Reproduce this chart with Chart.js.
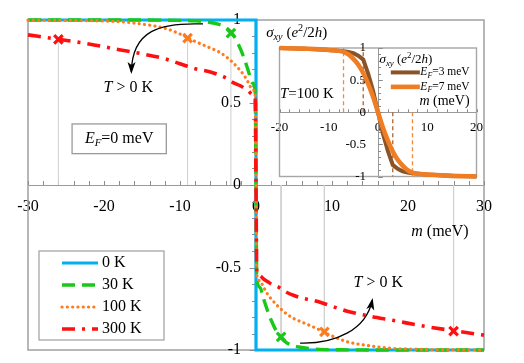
<!DOCTYPE html>
<html><head><meta charset="utf-8">
<script src="https://cdn.jsdelivr.net/npm/chart.js@4/dist/chart.umd.min.js"></script>
<style>
html,body{margin:0;padding:0;background:#fff;}
#wrap{position:relative;width:524px;height:363px;background:#fff;overflow:hidden;}
#inset{position:absolute;left:257px;top:20px;width:227px;height:165px;background:#fff;z-index:1;}
#inset canvas{display:block;}
#main{position:absolute;left:0;top:0;z-index:2;}
</style></head><body>
<div id="wrap">
<div id="inset"><canvas id="c2" width="227" height="165"></canvas></div>
<canvas id="main" width="524" height="363"></canvas>
</div>
<script>
// ---------- main chart data ----------
const tempLabels = ['0 K', '30 K', '100 K', '300 K'];
const m0K = [-30, 0, 0, 30];
const sigma0K = [1, 1, -1, -1];
const mT = [-30,-26,-22,-18,-15,-12,-10,-8,-6,-5,-4,-3,-2,-1.5,-1,-0.5,-0.1,0,0.1,0.5,1,1.5,2,3,4,5,6,8,10,12,15,18,22,26,30];
const sigma30K = [1,1,1,1,1,0.999,0.998,0.995,0.985,0.975,0.955,0.91,0.82,0.76,0.69,0.62,0.56,0,-0.56,-0.62,-0.69,-0.76,-0.82,-0.91,-0.955,-0.975,-0.985,-0.995,-0.998,-0.999,-1,-1,-1,-1,-1];
const sigma100K = [0.999,0.998,0.996,0.99,0.975,0.95,0.915,0.87,0.83,0.81,0.78,0.74,0.69,0.66,0.62,0.58,0.54,0,-0.54,-0.58,-0.62,-0.66,-0.69,-0.74,-0.78,-0.81,-0.83,-0.87,-0.915,-0.95,-0.975,-0.99,-0.996,-0.998,-0.999];
const sigma300K = [0.91,0.883,0.855,0.82,0.795,0.765,0.735,0.705,0.685,0.67,0.65,0.62,0.6,0.585,0.57,0.55,0.53,0,-0.53,-0.55,-0.57,-0.585,-0.6,-0.62,-0.65,-0.67,-0.685,-0.705,-0.735,-0.765,-0.795,-0.82,-0.855,-0.883,-0.91];
const crossM30K = [-3.3, 3.3];
const crossS30K = [0.92, -0.92];
const crossM100K = [-9, 9];
const crossS100K = [0.89, -0.89];
const crossM300K = [-26, 26];
const crossS300K = [0.883, -0.885];
const xTickLabels = ['-30', '-20', '-10', '0', '10', '20', '30'];
const yTickLabels = ['-1', '-0.5', '0', '0.5', '1'];

// ---------- inset data ----------
const insetM = [-20,-15,-10,-7,-6,-5,-4,-3,-2,-1,0,1,2,3,4,5,6,7,10,15,20];
const insetEF3 = [1,0.99,0.97,0.95,0.94,0.92,0.88,0.82,0.6,0.33,0,-0.33,-0.6,-0.82,-0.88,-0.92,-0.94,-0.95,-0.97,-0.99,-1];
const insetEF7 = [1,0.99,0.97,0.94,0.9,0.83,0.74,0.61,0.44,0.24,0,-0.24,-0.44,-0.61,-0.74,-0.83,-0.9,-0.94,-0.97,-0.99,-1];
const insetMarkEF3 = [-3, 3];
const insetMarkEF7 = [-7, 7];
const insetMarkEnd = [1, -1];
const insetLegendValues = ['=3 meV', '=7 meV'];
const insetXTickLabels = ['-20', '-10', '0', '10', '20'];
const insetYTickLabels = ['-1', '-0.5', '0', '0.5', '1'];

// ---------- helpers ----------
const SERIF = '"Liberation Serif", "Times New Roman", serif';
const pts = (xs, ys) => xs.map((x, i) => ({x: x, y: ys[i]}));
function stems(xs, ys) {
  const out = [];
  xs.forEach((x, i) => { out.push({x: x, y: 0}, {x: x, y: ys[i]}, {x: x, y: null}); });
  return out;
}
function drawRich(ctx, x, y, segs, align, base) {
  let total = 0;
  const parts = segs.map(s => {
    const size = (s.sub || s.sup) ? base * 0.68 : base;
    const font = (s.i ? 'italic ' : '') + size + 'px ' + SERIF;
    ctx.font = font;
    const w = ctx.measureText(s.t).width;
    total += w;
    return {t: s.t, sub: s.sub, sup: s.sup, font: font, w: w};
  });
  let cx = align === 'center' ? x - total / 2 : (align === 'right' ? x - total : x);
  ctx.save();
  ctx.textAlign = 'left';
  ctx.textBaseline = 'middle';
  ctx.fillStyle = '#000';
  parts.forEach(p => {
    ctx.font = p.font;
    const dy = p.sub ? base * 0.3 : (p.sup ? -base * 0.32 : 0);
    ctx.fillText(p.t, cx, y + dy);
    cx += p.w;
  });
  ctx.restore();
}
function arrowCubic(ctx, P) {
  ctx.save();
  ctx.strokeStyle = '#000'; ctx.fillStyle = '#000'; ctx.lineWidth = 1.3;
  ctx.beginPath();
  ctx.moveTo(P[0][0], P[0][1]);
  ctx.bezierCurveTo(P[1][0], P[1][1], P[2][0], P[2][1], P[3][0], P[3][1]);
  ctx.stroke();
  const ang = Math.atan2(P[3][1] - P[2][1], P[3][0] - P[2][0]);
  const L = 10, W = 4;
  ctx.beginPath();
  ctx.moveTo(P[3][0] + Math.cos(ang) * 2, P[3][1] + Math.sin(ang) * 2);
  ctx.lineTo(P[3][0] - Math.cos(ang) * L + Math.sin(ang) * W, P[3][1] - Math.sin(ang) * L - Math.cos(ang) * W);
  ctx.lineTo(P[3][0] - Math.cos(ang) * (L - 3), P[3][1] - Math.sin(ang) * (L - 3));
  ctx.lineTo(P[3][0] - Math.cos(ang) * L - Math.sin(ang) * W, P[3][1] - Math.sin(ang) * L + Math.cos(ang) * W);
  ctx.closePath();
  ctx.fill();
  ctx.restore();
}
function drawTickMarks(ctx, xs, ys, xFrom, xTo, xStep, xLen, yFrom, yTo, yStep, yLen) {
  ctx.save();
  ctx.strokeStyle = '#8c8c8c'; ctx.lineWidth = 1;
  const y0 = ys.getPixelForValue(0), x0 = xs.getPixelForValue(0);
  ctx.beginPath();
  for (let k = 0; k <= Math.round((xTo - xFrom) / xStep); k++) {
    const v = xFrom + k * xStep;
    const px = Math.round(xs.getPixelForValue(v)) + 0.5;
    ctx.moveTo(px, y0); ctx.lineTo(px, y0 + xLen);
  }
  for (let k = 0; k <= Math.round((yTo - yFrom) / yStep); k++) {
    const v = yFrom + k * yStep;
    const py = Math.round(ys.getPixelForValue(v)) + 0.5;
    const len = (Math.abs(v * 2 - Math.round(v * 2)) < 1e-6) ? yLen * 1.6 : yLen;
    ctx.moveTo(x0, py); ctx.lineTo(x0 + len, py);
  }
  ctx.stroke();
  ctx.restore();
}
// y tick labels of a centred y axis (Chart.js ignores ticks.padding there)
function drawYLabels(chart, labels, pad, size) {
  const ctx = chart.ctx, ys = chart.scales.y, xs = chart.scales.x;
  const x0 = xs.getPixelForValue(0);
  ctx.save();
  ctx.font = size + 'px ' + SERIF;
  ctx.fillStyle = '#000'; ctx.textAlign = 'right'; ctx.textBaseline = 'middle';
  ys.ticks.forEach((t, i) => { ctx.fillText(labels[i], x0 - pad, ys.getPixelForValue(t.value)); });
  ctx.restore();
}
function zeroFit(axis) {
  return function (s) {
    if (axis === 'x') s.height = 0; else s.width = 0;
    s.paddingLeft = 0; s.paddingRight = 0; s.paddingTop = 0; s.paddingBottom = 0;
  };
}

// ---------- main chart ----------
const colors = {k0: '#00b0f0', k30: '#19c819', k100: '#ff7c1e', k300: '#ff1010'};
const mainDatasets = [
  {label: 'guides', data: [].concat(stems(crossM300K, crossS300K), stems(crossM100K, crossS100K), stems(crossM30K, crossS30K)),
   borderColor: '#cfcfcf', borderWidth: 1, pointRadius: 0, spanGaps: false, order: 10},
  {label: tempLabels[0], data: pts(m0K, sigma0K), borderColor: colors.k0, borderWidth: 3.2, pointRadius: 0, order: 5, tempLegend: true},
  {label: tempLabels[1], data: pts(mT, sigma30K), borderColor: colors.k30, borderWidth: 3.4, borderDash: [13, 7], pointRadius: 0, cubicInterpolationMode: 'monotone', order: 4, tempLegend: true},
  {label: tempLabels[2], data: pts(mT, sigma100K), borderColor: colors.k100, borderWidth: 3.2, borderDash: [0.1, 5.2], borderCapStyle: 'round', pointRadius: 0, cubicInterpolationMode: 'monotone', order: 3, tempLegend: true},
  {label: tempLabels[3], data: pts(mT, sigma300K), borderColor: colors.k300, borderWidth: 3.6, borderDash: [13, 7, 3, 7], pointRadius: 0, cubicInterpolationMode: 'monotone', order: 2, tempLegend: true},
  {label: 'x30', data: pts(crossM30K, crossS30K), showLine: false, pointStyle: 'crossRot', pointRadius: 6, pointBorderWidth: 3.2, pointBorderColor: colors.k30, order: 1},
  {label: 'x100', data: pts(crossM100K, crossS100K), showLine: false, pointStyle: 'crossRot', pointRadius: 6, pointBorderWidth: 3.2, pointBorderColor: colors.k100, order: 1},
  {label: 'x300', data: pts(crossM300K, crossS300K), showLine: false, pointStyle: 'crossRot', pointRadius: 6, pointBorderWidth: 3.2, pointBorderColor: colors.k300, order: 1}
];
mainDatasets.forEach(d => { d.clip = false; d.fill = false; });

const mainPlugin = {
  id: 'mainDeco',
  beforeDatasetsDraw(chart) {
    const ctx = chart.ctx, a = chart.chartArea;
    const xs = chart.scales.x, ys = chart.scales.y;
    ctx.save();
    ctx.strokeStyle = '#a6a6a6'; ctx.lineWidth = 1.6;
    ctx.strokeRect(a.left, a.top, a.right - a.left, a.bottom - a.top);
    ctx.restore();
    drawTickMarks(ctx, xs, ys, -30, 30, 2, -4, -1, 1, 0.1, -4);
    drawYLabels(chart, yTickLabels, 15, 16);
  },
  afterDraw(chart) {
    const ctx = chart.ctx, a = chart.chartArea;
    const X = v => chart.scales.x.getPixelForValue(v);
    const Y = v => chart.scales.y.getPixelForValue(v);
    // arrows
    arrowCubic(ctx, [[X(-6.97), Y(0.976)], [X(-12.6), Y(0.985)], [X(-16.3), Y(0.94)], [X(-16.4), Y(0.685)]]);
    arrowCubic(ctx, [[X(5.8), Y(-0.958)], [X(10.4), Y(-0.964)], [X(14.5), Y(-0.879)], [X(15.3), Y(-0.697)]]);
    drawRich(ctx, X(-16.8), Y(0.588), [{t: 'T', i: true}, {t: ' > 0 K'}], 'center', 16);
    drawRich(ctx, X(16.1), Y(-0.592), [{t: 'T', i: true}, {t: ' > 0 K'}], 'center', 16);
    // axis title
    drawRich(ctx, X(24.2), Y(-0.285), [{t: 'm', i: true}, {t: ' (meV)'}], 'center', 16);
    // E_F box
    ctx.save();
    ctx.fillStyle = '#fff'; ctx.strokeStyle = '#9a9a9a'; ctx.lineWidth = 1.3;
    const bx = X(-24.2), by = Y(0.37), bw = X(-11.8) - bx, bh = Y(0.19) - by;
    ctx.fillRect(bx, by, bw, bh); ctx.strokeRect(bx, by, bw, bh);
    ctx.restore();
    drawRich(ctx, X(-18), Y(0.28), [{t: 'E', i: true}, {t: 'F', i: true, sub: true}, {t: '=0 meV'}], 'center', 16);
    // legend
    const lx = a.left + 11, ly = a.top + 231, lw = 125, lh = 89;
    ctx.save();
    ctx.fillStyle = '#fff'; ctx.strokeStyle = '#a6a6a6'; ctx.lineWidth = 1.3;
    ctx.fillRect(lx, ly, lw, lh); ctx.strokeRect(lx, ly, lw, lh);
    const legendSets = chart.data.datasets.filter(d => d.tempLegend);
    legendSets.forEach((d, i) => {
      const yy = ly + 12 + i * 22;
      ctx.save();
      ctx.strokeStyle = d.borderColor; ctx.lineWidth = d.borderWidth;
      ctx.setLineDash(d.borderDash || []);
      ctx.lineCap = d.borderCapStyle || 'butt';
      ctx.beginPath(); ctx.moveTo(lx + 23, yy); ctx.lineTo(lx + 59, yy); ctx.stroke();
      ctx.restore();
      drawRich(ctx, lx + 63, yy, [{t: d.label}], 'left', 16);
    });
    ctx.restore();
  }
};

const serifTicks = {family: SERIF, size: 16};
new Chart(document.getElementById('main'), {
  type: 'line',
  data: {datasets: mainDatasets},
  options: {
    responsive: false, animation: false, devicePixelRatio: 1, events: [],
    layout: {padding: {left: 28, top: 20, right: 40, bottom: 13}},
    plugins: {legend: {display: false}, tooltip: {enabled: false}},
    elements: {line: {tension: 0}},
    scales: {
      x: {type: 'linear', min: -30, max: 30, position: {y: 0},
          afterFit: zeroFit('x'),
          grid: {drawOnChartArea: false, drawTicks: false},
          border: {display: true, color: '#9a9a9a', width: 1},
          ticks: {stepSize: 10, padding: 12, color: '#000', font: serifTicks, maxRotation: 0,
                  callback: (v, i) => xTickLabels[i]}},
      y: {type: 'linear', min: -1, max: 1, position: {x: 0},
          afterFit: zeroFit('y'),
          grid: {drawOnChartArea: false, drawTicks: false},
          border: {display: true, color: '#9a9a9a', width: 1},
          ticks: {stepSize: 0.5, display: false}}
    }
  },
  plugins: [mainPlugin]
});

// ---------- inset chart ----------
const insetColors = {ef3: '#8b5428', ef7: '#ef7d24'};
const insetDatasets = [
  {label: 'markEF3', data: stems(insetMarkEF3, insetMarkEnd), borderColor: '#b0622a', borderWidth: 1.3, borderDash: [4, 3], pointRadius: 0, order: 10},
  {label: 'markEF7', data: stems(insetMarkEF7, insetMarkEnd), borderColor: '#f08a3c', borderWidth: 1.3, borderDash: [4, 3], pointRadius: 0, order: 10},
  {label: 'EF3', data: pts(insetM, insetEF3), borderColor: insetColors.ef3, borderWidth: 4, pointRadius: 0, order: 3, legendText: insetLegendValues[0]},
  {label: 'EF7', data: pts(insetM, insetEF7), borderColor: insetColors.ef7, borderWidth: 4.6, pointRadius: 0, cubicInterpolationMode: 'monotone', order: 2, legendText: insetLegendValues[1]}
];
insetDatasets.forEach(d => { d.clip = false; d.fill = false; });

const insetPlugin = {
  id: 'insetDeco',
  beforeDatasetsDraw(chart) {
    const ctx = chart.ctx, a = chart.chartArea;
    ctx.save();
    ctx.strokeStyle = '#a6a6a6'; ctx.lineWidth = 1.4;
    ctx.strokeRect(a.left, a.top, a.right - a.left, a.bottom - a.top);
    ctx.restore();
    drawTickMarks(ctx, chart.scales.x, chart.scales.y, -20, 20, 2, -3, -1, 1, 0.1, 3);
    drawYLabels(chart, insetYTickLabels, 12, 13);
  },
  afterDraw(chart) {
    const ctx = chart.ctx;
    const X = v => chart.scales.x.getPixelForValue(v);
    const Y = v => chart.scales.y.getPixelForValue(v);
    const sig = [{t: 'σ', i: true}, {t: 'xy', i: true, sub: true}, {t: ' ('}, {t: 'e', i: true}, {t: '2', sup: true}, {t: '/2'}, {t: 'h', i: true}, {t: ')'}];
    drawRich(ctx, X(-22.7), Y(1.23), sig, 'left', 15);
    drawRich(ctx, X(0.3), Y(0.82), sig, 'left', 13);
    drawRich(ctx, X(-19.9), Y(0.29), [{t: 'T', i: true}, {t: '=100 K'}], 'left', 15);
    drawRich(ctx, X(18.6), Y(0.165), [{t: 'm', i: true}, {t: ' (meV)'}], 'right', 14);
    const legendSets = chart.data.datasets.filter(d => d.legendText);
    legendSets.forEach((d, i) => {
      const yy = Y(0.62 - i * 0.225);
      ctx.save();
      ctx.strokeStyle = d.borderColor; ctx.lineWidth = d.borderWidth;
      ctx.beginPath(); ctx.moveTo(X(2.6), yy); ctx.lineTo(X(8.5), yy); ctx.stroke();
      ctx.restore();
      drawRich(ctx, X(8.6), yy, [{t: 'E', i: true}, {t: 'F', i: true, sub: true}, {t: d.legendText}], 'left', 11.5);
    });
  }
};

const insetTicks = {family: SERIF, size: 13};
new Chart(document.getElementById('c2'), {
  type: 'line',
  data: {datasets: insetDatasets},
  options: {
    responsive: false, animation: false, devicePixelRatio: 1, events: [],
    layout: {padding: {left: 22.5, top: 28, right: 7.5, bottom: 8.5}},
    plugins: {legend: {display: false}, tooltip: {enabled: false}},
    elements: {line: {tension: 0}},
    scales: {
      x: {type: 'linear', min: -20, max: 20, position: {y: 0},
          afterFit: zeroFit('x'),
          grid: {drawOnChartArea: false, drawTicks: false},
          border: {display: true, color: '#9a9a9a', width: 1},
          ticks: {stepSize: 10, padding: 8, color: '#000', font: insetTicks, maxRotation: 0,
                  callback: (v, i) => insetXTickLabels[i]}},
      y: {type: 'linear', min: -1, max: 1, position: {x: 0},
          afterFit: zeroFit('y'),
          grid: {drawOnChartArea: false, drawTicks: false},
          border: {display: true, color: '#9a9a9a', width: 1},
          ticks: {stepSize: 0.5, display: false}}
    }
  },
  plugins: [insetPlugin]
});
</script>
</body></html>
